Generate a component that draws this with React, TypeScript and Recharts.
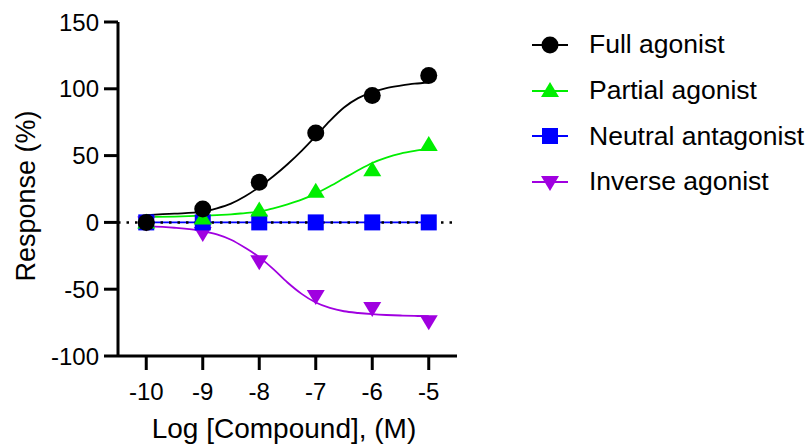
import React from "react";
import {
  ComposedChart,
  Line,
  Scatter,
  XAxis,
  YAxis,
  ReferenceLine,
  Label,
} from "recharts";

// measured doses (log M)
const doses = [-10, -9, -8, -7, -6, -5];
const fullValues = [0, 10, 30, 67, 95, 110];
const partialValues = [0, 3, 9, 23, 39, 58];
const neutralValues = [0, 0, 0, 0, 0, 0];
const inverseValues = [0, -8, -29, -55, -64, -74];

// fitted curves
const curveX = [-10, -9.5, -9, -8.75, -8.5, -8.25, -8, -7.75, -7.5, -7.25, -7, -6.75, -6.5, -6.25, -6, -5.75, -5.5, -5.25, -5];
const fullFit = [5.5, 6.5, 8, 10.5, 14, 19.5, 26.5, 34.5, 43.5, 53.5, 64.5, 76, 86, 93, 97.5, 100.5, 102.3, 103.8, 104.7];
const partialFit = [4, 4.3, 5, 5.5, 6, 7, 8, 10.5, 13.5, 17, 21.5, 27, 33, 39, 44.5, 48.5, 51.5, 53.5, 55];
const inverseFit = [-3, -4, -6.5, -9, -13, -19, -26, -35, -45, -53.5, -60, -64, -66.5, -67.8, -68.7, -69.3, -69.7, -70, -70.2];

const xTicks = [-10, -9, -8, -7, -6, -5];
const yTicks = [-100, -50, 0, 50, 100, 150];

const seriesNames = ["Full agonist", "Partial agonist", "Neutral antagonist", "Inverse agonist"];
const seriesColors = ["#000000", "#00ee00", "#0000ff", "#a000e0"];

const toPoints = (xs: number[], ys: number[]) => xs.map((x, i) => ({ x, y: ys[i] }));

const FONT = "'Liberation Sans', Arial, sans-serif";

const Circle = (props: any) => <circle cx={props.cx} cy={props.cy} r={8.5} fill={props.fill} />;
const Square = (props: any) => (
  <rect x={props.cx - 8} y={props.cy - 8} width={16} height={16} fill={props.fill} />
);
const TriUp = (props: any) => {
  const { cx, cy, fill } = props;
  return <polygon points={`${cx},${cy - 9} ${cx - 9},${cy + 6} ${cx + 9},${cy + 6}`} fill={fill} />;
};
const TriDown = (props: any) => {
  const { cx, cy, fill } = props;
  return <polygon points={`${cx},${cy + 9} ${cx - 9},${cy - 6} ${cx + 9},${cy - 6}`} fill={fill} />;
};

const markerFor = (i: number, cx: number, cy: number, fill: string) => {
  if (i === 0) return <Circle cx={cx} cy={cy} fill={fill} />;
  if (i === 1) return <TriUp cx={cx} cy={cy} fill={fill} />;
  if (i === 2) return <Square cx={cx} cy={cy} fill={fill} />;
  return <TriDown cx={cx} cy={cy} fill={fill} />;
};

const LegendBox = () => (
  <div
    style={{
      position: "absolute",
      left: 530,
      top: 22,
      fontFamily: FONT,
      fontSize: 26.5,
      color: "#000",
      whiteSpace: "nowrap",
    }}
  >
    {seriesNames.map((name, i) => (
      <div key={name} style={{ display: "flex", alignItems: "center", height: 45.7 }}>
        <svg width={40} height={24} style={{ marginRight: 19 }}>
          <line x1={2} y1={12} x2={38} y2={12} stroke={seriesColors[i]} strokeWidth={2} />
          {markerFor(i, 20, 12, seriesColors[i])}
        </svg>
        <span>{name}</span>
      </div>
    ))}
  </div>
);

const axisStyle = { stroke: "#000", strokeWidth: 3 };

export default function App() {
  return (
    <div style={{ position: "absolute", left: 0, top: 0, width: 812, height: 446, background: "#fff" }}>
      <ComposedChart width={812} height={446} margin={{ top: 22, right: 355, bottom: 0, left: 0 }}>
        <XAxis
          type="number"
          dataKey="x"
          domain={[-10.5, -4.5]}
          ticks={xTicks}
          allowDataOverflow
          height={90}
          axisLine={axisStyle}
          tickLine={axisStyle}
          tickSize={14}
          tickMargin={13}
          tick={{ fill: "#000", fontSize: 24, fontFamily: FONT }}
        >
          <Label
            content={() => (
              <text x={284} y={438} textAnchor="middle" fontSize={28} fontFamily={FONT} fill="#000">
                Log [Compound], (M)
              </text>
            )}
          />
        </XAxis>
        <YAxis
          type="number"
          dataKey="y"
          domain={[-100, 150]}
          ticks={yTicks}
          allowDataOverflow
          width={118}
          axisLine={axisStyle}
          tickLine={axisStyle}
          tickSize={14}
          tickMargin={5}
          tick={{ fill: "#000", fontSize: 24, fontFamily: FONT }}
        >
          <Label
            content={() => (
              <text
                x={35}
                y={196}
                textAnchor="middle"
                fontSize={27}
                fontFamily={FONT}
                fill="#000"
                transform="rotate(-90 35 196)"
              >
                Response (%)
              </text>
            )}
          />
        </YAxis>

        <Line
          data={toPoints(curveX, inverseFit)}
          dataKey="y"
          type="monotone"
          stroke={seriesColors[3]}
          strokeWidth={1.8}
          dot={false}
          isAnimationActive={false}
        />
        <Scatter
          data={toPoints(doses, inverseValues)}
          fill={seriesColors[3]}
          shape={TriDown}
          isAnimationActive={false}
        />
        <Line
          data={toPoints(doses, neutralValues)}
          dataKey="y"
          type="linear"
          stroke={seriesColors[2]}
          strokeWidth={1.8}
          dot={false}
          isAnimationActive={false}
        />
        <Scatter
          data={toPoints(doses, neutralValues)}
          fill={seriesColors[2]}
          shape={Square}
          isAnimationActive={false}
        />
        <Line
          data={toPoints(curveX, partialFit)}
          dataKey="y"
          type="monotone"
          stroke={seriesColors[1]}
          strokeWidth={1.8}
          dot={false}
          isAnimationActive={false}
        />
        <Scatter
          data={toPoints(doses, partialValues)}
          fill={seriesColors[1]}
          shape={TriUp}
          isAnimationActive={false}
        />
        <Line
          data={toPoints(curveX, fullFit)}
          dataKey="y"
          type="monotone"
          stroke={seriesColors[0]}
          strokeWidth={1.8}
          dot={false}
          isAnimationActive={false}
        />
        <Scatter
          data={toPoints(doses, fullValues)}
          fill={seriesColors[0]}
          shape={Circle}
          isAnimationActive={false}
        />
        <ReferenceLine y={0} stroke="#000" strokeWidth={2.5} strokeDasharray="2.5 6" />
      </ComposedChart>
      <LegendBox />
    </div>
  );
}
